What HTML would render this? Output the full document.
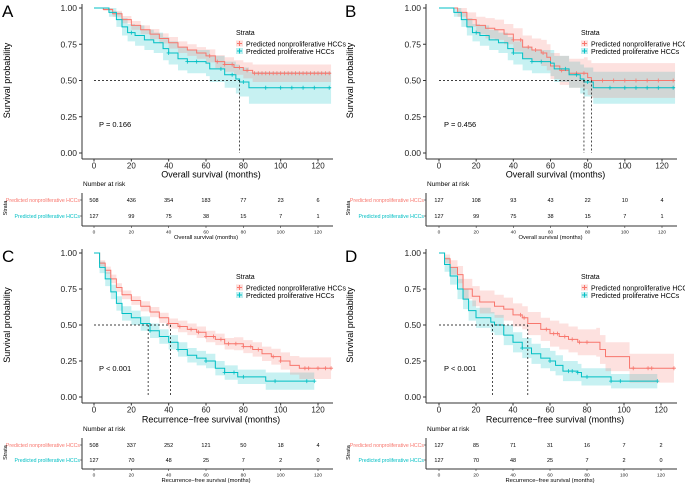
<!DOCTYPE html>
<html><head><meta charset="utf-8">
<style>
html,body{margin:0;padding:0;background:#fff;}
svg{display:block;font-family:"Liberation Sans",Arial,sans-serif;}
</style></head>
<body>
<svg id="fig" width="685" height="484" viewBox="0 0 685 484" xmlns="http://www.w3.org/2000/svg"></svg>
<script>
// ---------- DATA ----------
const tickMonths = [0,20,40,60,80,100,120];
const yTicks = [0,0.25,0.5,0.75,1];
const yTickLabels = ["0.00","0.25","0.50","0.75","1.00"];
const seriesNames = ["Predicted nonproliferative HCCs","Predicted proliferative HCCs"];

// Panel A
const aRedT = [0,5,10,15,20,25,30,35,40,45,50,55,60,65,70,75,80,85,127];
const aRedS = [1,.99,.96,.92,.88,.85,.82,.79,.76,.73,.71,.69,.67,.63,.61,.59,.57,.55,.55];
const aRedW = [0,.01,.02,.025,.03,.03,.035,.035,.04,.04,.04,.04,.045,.045,.05,.05,.055,.06,.06];
const aCyT = [0,8,12,15,18,22,27,32,37,40,45,50,60,62,70,76,78,83,127];
const aCyS = [1,.97,.92,.87,.83,.81,.78,.76,.72,.69,.65,.63,.62,.58,.54,.51,.49,.45,.45];
const aCyW = [0,.03,.05,.06,.06,.07,.07,.07,.08,.08,.08,.08,.09,.09,.09,.1,.1,.11,.11];
const aRedCens = [62,66,70,74,78,82,86,88,90,92,94,96,98,100,102,104,106,108,110,112,114,116,118,120,122,124,126];
const aCyCens = [20,40,50,55,68,74,80,92,100,106,112,118,126];
const aRiskRed = [508,436,354,183,77,23,6];
const aRiskCy = [127,99,75,38,15,7,1];
const aMedians = [78];

// Panel B
const bRedT = [0,10,15,20,25,30,35,40,45,50,55,58,60,65,70,78,80,82,127];
const bRedS = [1,.97,.92,.88,.86,.85,.82,.78,.73,.71,.69,.66,.60,.57,.55,.55,.52,.50,.50];
const bRedW = [0,.03,.05,.06,.07,.07,.07,.08,.08,.08,.09,.09,.09,.1,.1,.11,.12,.12,.13];
const bCyT = [0,8,12,15,18,22,27,32,37,40,45,50,60,62,70,76,78,83,127];
const bCyS = [1,.97,.92,.87,.83,.81,.78,.76,.72,.69,.65,.63,.62,.58,.54,.51,.49,.45,.45];
const bCyW = [0,.03,.05,.06,.06,.07,.07,.07,.08,.08,.08,.08,.09,.09,.09,.1,.1,.11,.11];
const bRedCens = [40,44,48,52,56,66,74,78,88,94,100,106,112,118,126];
const bCyCens = [20,40,50,55,68,74,80,92,100,106,112,118,126];
const bRiskRed = [127,108,93,43,22,10,4];
const bRiskCy = [127,99,75,38,15,7,1];
const bMedians = [78,82];

// Panel C
const cRedT = [0,3,6,9,12,15,20,25,30,35,40,45,50,55,60,65,70,75,80,85,90,95,100,105,110,127];
const cRedS = [1,.93,.88,.82,.76,.71,.67,.63,.59,.55,.51,.49,.47,.45,.42,.40,.37,.37,.35,.33,.30,.28,.25,.22,.20,.20];
const cRedW = [0,.02,.025,.03,.03,.03,.03,.035,.035,.035,.035,.04,.04,.04,.04,.04,.04,.045,.045,.05,.05,.055,.06,.065,.075,.09];
const cCyT = [0,3,6,9,12,15,20,25,30,35,40,45,50,55,60,65,70,75,77,90,92,118];
const cCyS = [1,.90,.82,.73,.65,.58,.55,.51,.46,.42,.38,.33,.29,.27,.25,.20,.17,.17,.14,.14,.11,.11];
const cCyW = [0,.04,.05,.05,.05,.05,.05,.05,.05,.05,.05,.05,.05,.05,.05,.05,.05,.05,.05,.05,.06,.06];
const cRedCens = [40,46,52,56,60,64,68,72,76,80,84,88,96,100,113,115,120,124,127];
const cCyCens = [30,45,60,70,75,80,97,114,118];
const cRiskRed = [508,337,252,121,50,18,4];
const cRiskCy = [127,70,48,25,7,2,0];
const cMedians = [29,41];

// Panel D
const dRedT = [0,3,6,10,13,18,22,30,35,40,45,48,55,60,65,70,75,85,87,90,102,103,127];
const dRedS = [1,.96,.90,.85,.75,.70,.66,.63,.61,.57,.55,.51,.47,.44,.42,.40,.38,.38,.33,.28,.28,.20,.20];
const dRedW = [0,.03,.05,.06,.07,.07,.08,.08,.08,.08,.08,.08,.08,.09,.09,.09,.09,.1,.1,.1,.1,.1,.18];
const dCyT = [0,3,6,10,13,16,20,28,30,35,40,45,50,55,60,63,67,75,77,92,93,118];
const dCyS = [1,.92,.84,.75,.68,.60,.55,.52,.50,.43,.38,.34,.30,.27,.25,.22,.18,.17,.14,.14,.11,.11];
const dCyW = [0,.05,.06,.07,.07,.07,.07,.07,.07,.07,.07,.07,.07,.07,.07,.07,.07,.06,.06,.06,.05,.05];
const dRedCens = [44,46,58,62,64,68,72,76,80,105,113,115,127];
const dCyCens = [45,60,70,72,75,80,93,98,118];
const dRiskRed = [127,85,71,31,16,7,2];
const dRiskCy = [127,70,48,25,7,2,0];
const dMedians = [29,48];

// ---------- DRAWING ----------
const NS = "http://www.w3.org/2000/svg";
const svg = document.getElementById('fig');
const RED = "#F8766D", CY = "#00BFC4";
function mk(tag, attrs, parent, text){
  const e = document.createElementNS(NS, tag);
  for (const k in attrs) e.setAttribute(k, attrs[k]);
  if (text !== undefined) e.textContent = text;
  (parent || svg).appendChild(e);
  return e;
}
function stepAt(T,S,t){ let v=S[0]; for(let i=0;i<T.length;i++){ if(T[i]<=t) v=S[i]; } return v; }

function drawPanel(L, D){
  const g = mk('g', {});
  
  
  const X = m => L.x0 + m * (L.x120 - L.x0) / 120;
  const Y = s => L.y0 - s * (L.y0 - L.y1);
  const t = mk('text', {x:L.letterX, y:L.letterY, 'font-size':17, fill:'#000'}, g, L.letter);
  
  
  const curves = [[D.cT,D.cS,D.cW,CY,D.cC,'proliferative'],[D.rT,D.rS,D.rW,RED,D.rC,'nonproliferative']];
  curves.forEach(c => {
    const [T,S,W,col,,nm] = c;
    let up = '', lo = '';
    for (let i=0;i<T.length;i++){
      const xa = X(T[i]), xb = X(i+1<T.length?T[i+1]:T[i]);
      up += (i?'L':'M') + xa + ',' + Y(Math.min(1,S[i]+W[i])) + 'L' + xb + ',' + Y(Math.min(1,S[i]+W[i]));
      lo = 'L' + xb + ',' + Y(Math.max(0,S[i]-W[i])) + 'L' + xa + ',' + Y(Math.max(0,S[i]-W[i])) + lo;
    }
    const p = mk('path', {d: up + lo + 'Z', fill: col, 'fill-opacity': 0.22, stroke:'none'}, g);
    
    
  });
  curves.slice().reverse().forEach(c => {
    const [T,S,,col,C,nm] = c;
    let d = '';
    for (let i=0;i<T.length;i++){
      const xa = X(T[i]), xb = X(i+1<T.length?T[i+1]:T[i]);
      if (i===0) d += 'M'+xa+','+Y(S[i]); else d += 'L'+xa+','+Y(S[i]);
      d += 'L'+xb+','+Y(S[i]);
    }
    const p = mk('path', {d, fill:'none', stroke:col, 'stroke-width':1}, g);
    
    
    C.forEach(tm => {
      const cx = X(tm), cy = Y(stepAt(T,S,tm));
      const cm = mk('path', {d:`M${cx-2},${cy}L${cx+2},${cy}M${cx},${cy-2}L${cx},${cy+2}`, stroke:col, 'stroke-width':0.8}, g);
      
      
    });
  });
  const mx = Math.max(...D.med);
  const hl = mk('line', {x1:X(0), x2:X(mx), y1:Y(.5), y2:Y(.5), stroke:'#000', 'stroke-width':0.7, 'stroke-dasharray':'2,2'}, g);
  
  
  D.med.forEach(m => {
    const vl = mk('line', {x1:X(m), x2:X(m), y1:Y(.5), y2:Y(0), stroke:'#000', 'stroke-width':0.7, 'stroke-dasharray':'2,2'}, g);
    
    
  });
  const ya = mk('line', {x1:L.ax, x2:L.ax, y1:L.y1-4, y2:L.axB, stroke:'#333', 'stroke-width':1}, g);
  
  
  const xa = mk('line', {x1:L.ax, x2:L.xEnd, y1:L.axB, y2:L.axB, stroke:'#333', 'stroke-width':1}, g);
  
  
  yTicks.forEach((v,i) => {
    mk('line', {x1:L.ax-3, x2:L.ax, y1:Y(v), y2:Y(v), stroke:'#333'}, g);
    const tl = mk('text', {x:L.ax-5, y:Y(v)+3, 'text-anchor':'end', 'font-size':8.5, fill:'#222'}, g, yTickLabels[i]);
    
    
  });
  tickMonths.forEach(m => {
    mk('line', {x1:X(m), x2:X(m), y1:L.axB, y2:L.axB+2.5, stroke:'#333'}, g);
    const tl = mk('text', {x:X(m), y:L.axB+9.5, 'text-anchor':'middle', 'font-size':8, fill:'#222'}, g, m);
    
    
  });
  const xt = mk('text', {x:(L.x0+L.x120)/2 + 5, y:L.axB+L.xtOff, 'text-anchor':'middle', 'font-size':9, fill:'#000'}, g, L.xTitle);
  
  
  const yt = mk('text', {x:0, y:0, 'text-anchor':'middle', 'font-size':9, fill:'#000', transform:`translate(${L.yTitleX},${(L.y0+L.y1)/2}) rotate(-90)`}, g, 'Survival probability');
  
  
  const pv = mk('text', {x:L.x0+5, y:Y(.25)+10, 'font-size':7.5, fill:'#000'}, g, L.p);
  
  
  const lg = mk('g', {}, g);
  
  
  mk('text', {x:L.legX, y:L.legY, 'font-size':7, fill:'#000'}, lg, 'Strata');
  [RED, CY].forEach((col,i) => {
    const yy = L.legY + 9 + i*7.5;
    const e = mk('g', {}, lg);
    
    
    mk('rect', {x:L.legX, y:yy-3.5, width:7, height:6, fill:col, 'fill-opacity':0.25}, e);
    mk('path', {d:`M${L.legX+1},${yy-0.5}L${L.legX+6},${yy-0.5}M${L.legX+3.5},${yy-3}L${L.legX+3.5},${yy+2}`, stroke:col, 'stroke-width':1}, e);
    mk('text', {x:L.legX+10, y:yy+2.5, 'font-size':7, fill:'#000'}, e, seriesNames[i]);
  });
  const rt = mk('g', {}, g);
  
  
  mk('text', {x:L.ax+1, y:L.nrY, 'font-size':6.5, fill:'#000'}, rt, 'Number at risk');
  [[D.rr,RED,L.r1],[D.rc,CY,L.r2]].forEach((r,i) => {
    const lab = mk('text', {x:L.ax-2, y:r[2]+2, 'text-anchor':'end', 'font-size':5.2, fill:r[1]}, rt, seriesNames[i]);
    
    
    mk('line', {x1:L.ax-2, x2:L.ax, y1:r[2], y2:r[2], stroke:'#333', 'stroke-width':0.6}, rt);
    r[0].forEach((n,k) => {
      const c = mk('text', {x:X(tickMonths[k]), y:r[2]+2, 'text-anchor':'middle', 'font-size':5.5, fill:'#000'}, rt, n);
      
      
    });
  });
  mk('line', {x1:L.ax, x2:L.ax, y1:L.r1-7, y2:L.tAx, stroke:'#333', 'stroke-width':1}, rt);
  mk('line', {x1:L.ax, x2:L.xEnd, y1:L.tAx, y2:L.tAx, stroke:'#333', 'stroke-width':1}, rt);
  tickMonths.forEach(m => {
    mk('line', {x1:X(m), x2:X(m), y1:L.tAx, y2:L.tAx+2, stroke:'#333', 'stroke-width':0.6}, rt);
    mk('text', {x:X(m), y:L.tAx+7.5, 'text-anchor':'middle', 'font-size':4.8, fill:'#222'}, rt, m);
  });
  mk('text', {x:(L.x0+L.x120)/2, y:L.tAx+13, 'text-anchor':'middle', 'font-size':5.8, fill:'#000'}, rt, L.xTitle);
  mk('text', {x:0, y:0, 'text-anchor':'middle', 'font-size':5.5, fill:'#000', transform:`translate(${L.strataX},${(L.r1+L.r2)/2}) rotate(-90)`}, rt, 'Strata');
}

const layTop = {y1:8, y0:153, axB:159, nrY:186, r1:200, r2:216, tAx:226, legY:35, xtOff:18.5};
const layBot = {y1:253, y0:397, axB:403, nrY:431, r1:445, r2:460, tAx:469, legY:279, xtOff:19.5};
drawPanel(Object.assign({letter:'A', letterX:2, letterY:17, x0:94, x120:318, ax:82, xEnd:333, yTitleX:10, strataX:7, legX:236, xTitle:'Overall survival (months)', p:'P = 0.166'}, layTop),
  {rT:aRedT,rS:aRedS,rW:aRedW,cT:aCyT,cS:aCyS,cW:aCyW,rC:aRedCens,cC:aCyCens,rr:aRiskRed,rc:aRiskCy,med:aMedians});
drawPanel(Object.assign({letter:'B', letterX:345, letterY:17, x0:439, x120:662, ax:426, xEnd:677, yTitleX:353, strataX:350, legX:581, xTitle:'Overall survival (months)', p:'P = 0.456'}, layTop),
  {rT:bRedT,rS:bRedS,rW:bRedW,cT:bCyT,cS:bCyS,cW:bCyW,rC:bRedCens,cC:bCyCens,rr:bRiskRed,rc:bRiskCy,med:bMedians});
drawPanel(Object.assign({letter:'C', letterX:2, letterY:262, x0:94, x120:318, ax:82, xEnd:333, yTitleX:10, strataX:7, legX:236, xTitle:'Recurrence\u2212free survival (months)', p:'P < 0.001'}, layBot),
  {rT:cRedT,rS:cRedS,rW:cRedW,cT:cCyT,cS:cCyS,cW:cCyW,rC:cRedCens,cC:cCyCens,rr:cRiskRed,rc:cRiskCy,med:cMedians});
drawPanel(Object.assign({letter:'D', letterX:345, letterY:262, x0:439, x120:661, ax:426, xEnd:677, yTitleX:353, strataX:350, legX:581, xTitle:'Recurrence\u2212free survival (months)', p:'P < 0.001'}, layBot),
  {rT:dRedT,rS:dRedS,rW:dRedW,cT:dCyT,cS:dCyS,cW:dCyW,rC:dRedCens,cC:dCyCens,rr:dRiskRed,rc:dRiskCy,med:dMedians});
</script>
</body></html>
